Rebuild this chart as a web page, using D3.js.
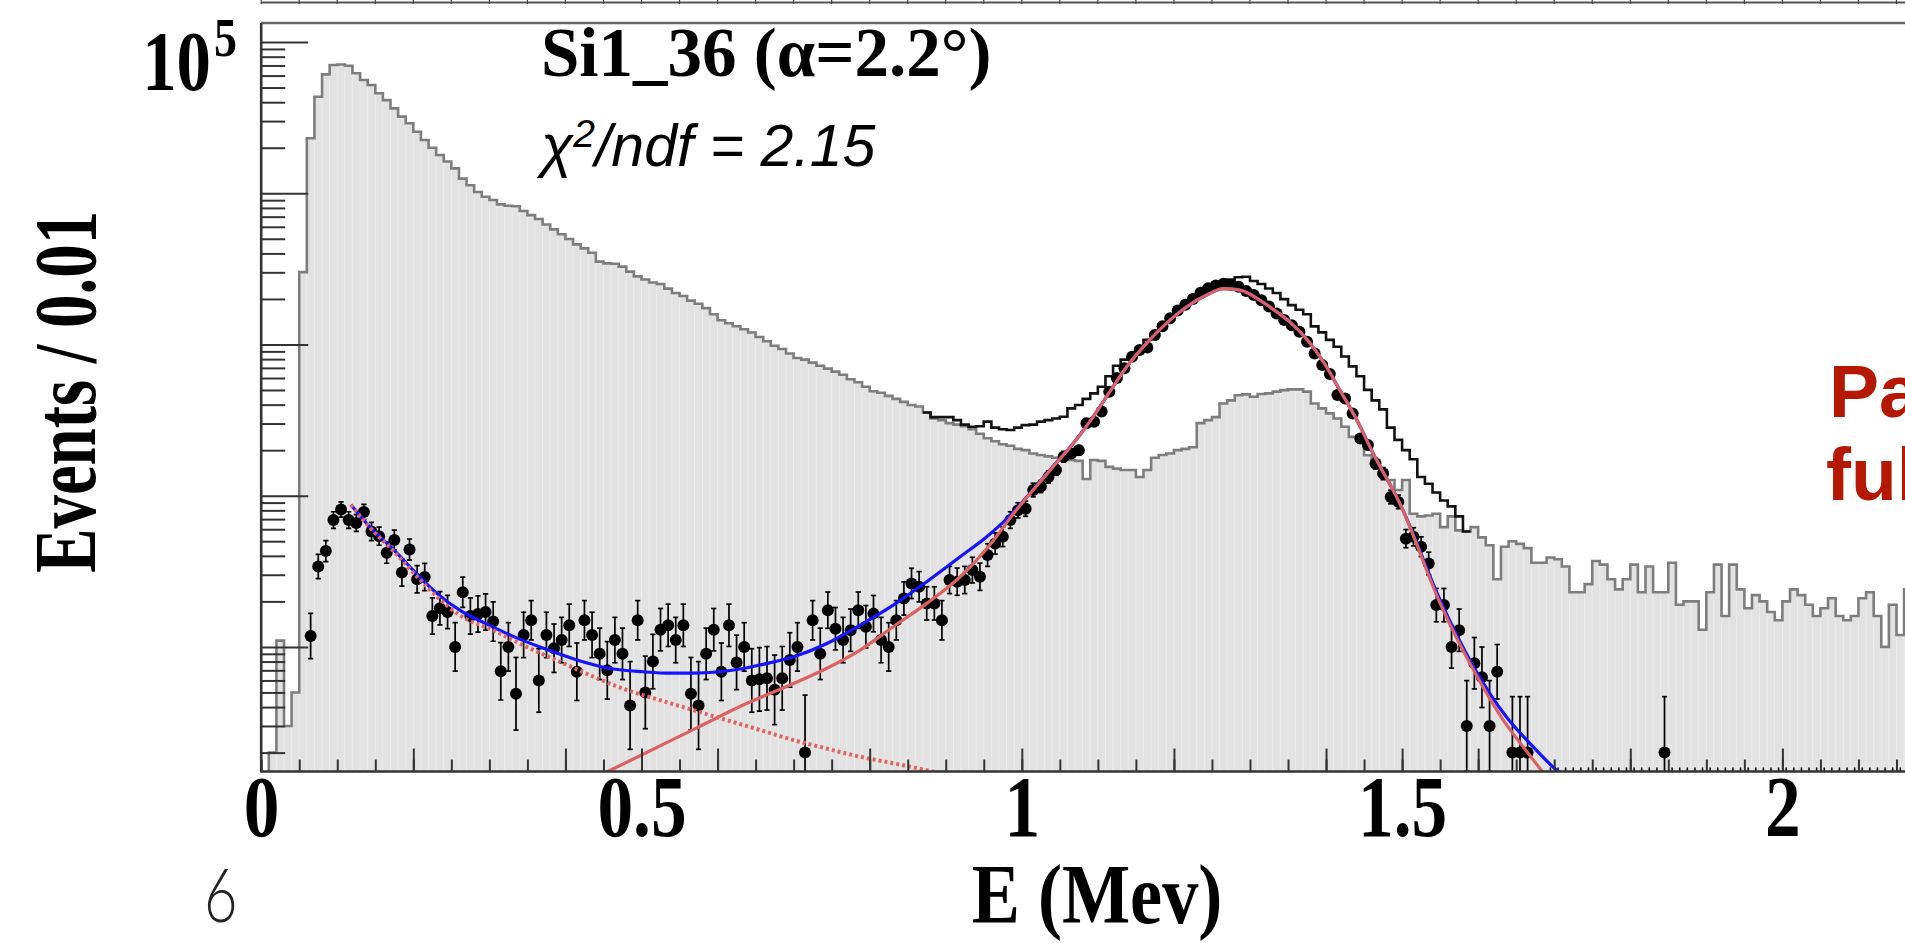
<!DOCTYPE html>
<html>
<head>
<meta charset="utf-8">
<script src="https://cdn.jsdelivr.net/npm/d3@7"></script>
<style>
  body { margin: 0; background: #fff; overflow: hidden; }
  svg { display: block; }
</style>
</head>
<body>
<div id="chart"></div>
<script>
// ---- data (bin width 0.01 MeV) ----
const binWidth = 0.01;

// grey filled histogram, bins starting at 0.00
const grayStart = 0.0;
const grayCounts = [
  0, 2, 11, 3, 5, 3010, 23100, 43500, 61100, 70500,
  71100, 69700, 62100, 56100, 52000, 45800, 41300, 36400, 32100, 29000,
  25500, 22500, 20000, 17900, 16200, 14600, 12500, 11300, 10200, 9490,
  9020, 8440, 8270, 8200, 7630, 7170, 6750, 6220, 5770, 5350,
  4980, 4590, 4320, 4040, 3530, 3440, 3420, 3270, 3030, 2820,
  2690, 2570, 2510, 2340, 2190, 2090, 1950, 1860, 1740, 1585,
  1445, 1380, 1320, 1260, 1200, 1120, 1050, 980, 933, 871,
  813, 794, 759, 724, 692, 661, 631, 589, 562, 525,
  490, 479, 457, 437, 417, 398, 389, 355, 324, 316,
  302, 295, 288, 275, 257, 240, 229, 219, 214, 204,
  200, 190, 186, 182, 178, 174, 172, 170, 129, 172,
  170, 155, 151, 148, 148, 133, 148, 178, 186, 190,
  200, 204, 209, 302, 316, 331, 407, 427, 462, 468,
  451, 470, 475, 488, 499, 505, 505, 488, 407, 378,
  350, 324, 286, 245, 233, 185, 172, 148, 127, 109,
  127, 76, 73, 74, 76, 62, 73, 59, 58, 62,
  53, 47, 28, 46, 50, 48, 45, 36, 36, 39,
  38, 34, 23, 23, 26, 37, 35, 28, 24, 28,
  35, 23, 34, 23, 23, 36, 19, 20, 20, 13,
  23, 35, 16, 35, 24, 18, 22, 20, 17, 15,
  20, 24, 22, 19, 16, 18, 21, 16, 15, 16,
  21, 23, 16, 10, 19, 12, 24
];

// black open histogram, bins starting at 0.87
const blackStart = 0.87;
const blackCounts = [
  355, 331, 331, 331, 316, 295, 286, 288, 309, 282,
  275, 272, 282, 293, 295, 309, 316, 324, 333, 378,
  398, 437, 475, 525, 617, 724, 794, 851, 955, 1072,
  1189, 1349, 1514, 1679, 1820, 1995, 2163, 2317, 2455, 2570,
  2692, 2786, 2805, 2630, 2512, 2344, 2188, 1995, 1820, 1698,
  1585, 1318, 1202, 1072, 966, 832, 716, 617, 501, 427,
  372, 282, 234, 200, 174, 133, 120, 105, 93, 85,
  73, 58
];

// data points, first bin starts at 0.06 (null = no marker, 0 = empty bin)
const pointStart = 0.06;
const pointCounts = [
  11.8, 34, 43, 69, 81, 69, 66, 78, 58, 54,
  42, 51, 31, 44, 28, 29, 16, 18, 17, 10,
  23, 16, 16.5, 17, 14.7, 6.9, 10, 4.9, 12, 15,
  6, 12, 9.8, 11.1, 13.9, 6.85, 15, 12, 9, 7,
  11.1, 9, 4.1, 15, 5, 8, 13, 13.9, 11.1, 13.9,
  4.9, 4.1, 9, 13, 6.85, 13.9, 7.9, 10, 6, 6.1,
  6.2, 5.2, 6.2, 8.2, 10, 2.0, 15, 9, 17.5, 13.2,
  11.1, 12.9, 17.5, 13.6, 16.6, 11.1, 10, 15, 20.9, 26.3,
  25, 19.4, 19.4, 15, 27.7, 27, 27.7, 32.2, 29.1, 40.5,
  48.3, 53.5, 69, 80, 82, 109, 115, 133, 148, 181,
  190, 200, 301, 308, 360, 487, 600, 695, 830, 918,
  956, 1153, 1320, 1490, 1680, 1830, 2000, 2200, 2350, 2450,
  2520, 2480, 2410, 2260, 2120, 1960, 1780, 1605, 1450, 1340,
  1214, 1042, 873, 731, 637, 463, 440, 350, 239, 216,
  163, 140, 98, 91, 52, 53.5, 46, 35.6, 18.9, 18.9,
  10, 12.9, 3.0, 7.8, 6.3, 3.0, 6.85, null, 2, 2,
  2, null, null, 0, 0, 0, 0, 0, 0, 0,
  0, 0, 0, 0, 0, 0, 0, 0, 2, 0,
  0, 0, 0, 0, 0, 0, 0, 0, 0, 0,
  0, 0, 0, 0, 0, 0, 0, 0, 0, 0,
  0, 0, 0, 0, 0, 0, 0, 0, 0, 0,
  0
];
// half length of each error bar, in decades
const pointErrLog = [
  0.15, 0.08, 0.07, 0.055, 0.05, 0.055, 0.055, 0.05, 0.06, 0.06,
  0.07, 0.065, 0.09, 0.07, 0.09, 0.09, 0.12, 0.11, 0.11, 0.16,
  0.10, 0.12, 0.12, 0.12, 0.13, 0.19, 0.16, 0.24, 0.15, 0.13,
  0.21, 0.15, 0.16, 0.15, 0.14, 0.19, 0.13, 0.15, 0.17, 0.19,
  0.15, 0.17, 0.29, 0.13, 0.24, 0.18, 0.14, 0.14, 0.15, 0.14,
  0.24, 0.29, 0.17, 0.14, 0.19, 0.14, 0.18, 0.16, 0.21, 0.21,
  0.21, 0.23, 0.21, 0.18, 0.16, 0.38, 0.13, 0.17, 0.12, 0.14,
  0.15, 0.14, 0.12, 0.14, 0.12, 0.15, 0.16, 0.13, 0.11, 0.10,
  0.10, 0.11, 0.11, 0.13, 0.09, 0.09, 0.09, 0.085, 0.09, 0.075,
  0.07, 0.065, 0.055, 0.05, 0.05, 0.045, 0.04, 0.04, 0.035, 0.035,
  0.03, 0.03, 0.025, 0.025, 0.025, 0.02, 0.02, 0.02, 0.015, 0.015,
  0.015, 0.015, 0.015, 0.01, 0.01, 0.01, 0.01, 0.01, 0.01, 0.01,
  0.01, 0.01, 0.01, 0.01, 0.01, 0.01, 0.01, 0.01, 0.01, 0.01,
  0.015, 0.015, 0.015, 0.02, 0.02, 0.02, 0.02, 0.025, 0.03, 0.03,
  0.035, 0.04, 0.045, 0.045, 0.06, 0.06, 0.065, 0.075, 0.11, 0.11,
  0.14, 0.14, 0.30, 0.17, 0.20, 0.30, 0.18, null, 0.37, 0.37,
  0.37, null, null, null, null, null, null, null, null, null,
  null, null, null, null, null, null, null, null, 0.37, null
];

// fitted curves, [E, events]
const fitTotal = [
  [0.118, 87], [0.143, 62], [0.174, 44], [0.204, 30.6], [0.231, 22.6], [0.261, 17.5],
  [0.296, 14.2], [0.332, 11.7], [0.371, 9.8], [0.415, 8.2], [0.459, 7.2], [0.502, 6.85],
  [0.538, 6.7], [0.568, 6.7], [0.603, 6.85], [0.634, 7.2], [0.656, 7.6], [0.700, 8.6],
  [0.743, 10.5], [0.787, 13.9], [0.831, 18.9], [0.875, 27], [0.919, 39.5], [0.954, 53.5],
  [0.989, 78], [1.015, 110], [1.041, 156], [1.068, 223], [1.094, 334], [1.120, 526],
  [1.138, 713], [1.164, 1018], [1.190, 1379], [1.217, 1778], [1.243, 2123], [1.265, 2340],
  [1.287, 2290], [1.313, 1967], [1.331, 1700], [1.353, 1400], [1.375, 1080], [1.397, 760],
  [1.418, 500], [1.440, 320], [1.462, 190], [1.497, 89], [1.550, 20.4], [1.594, 7.4],
  [1.637, 3.45], [1.668, 2.3], [1.703, 1.53], [1.72, 1.3]
];
const fitPeak = [
  [0.432, 1.31], [0.50, 1.93], [0.57, 2.87], [0.64, 4.27], [0.70, 5.73], [0.743, 7.2],
  [0.787, 9.5], [0.831, 13.6], [0.875, 19.4], [0.919, 29.1], [0.963, 50.8], [0.989, 76],
  [1.015, 109], [1.041, 155], [1.068, 222], [1.094, 333], [1.120, 525], [1.138, 712],
  [1.164, 1017], [1.190, 1378], [1.217, 1777], [1.243, 2122], [1.265, 2340], [1.287, 2290],
  [1.313, 1967], [1.331, 1700], [1.353, 1400], [1.375, 1080], [1.397, 760], [1.418, 500],
  [1.440, 320], [1.462, 190], [1.497, 89], [1.550, 19.4], [1.594, 7.0], [1.633, 3.28],
  [1.659, 2.19], [1.683, 1.53], [1.70, 1.2]
];
const fitExpo = [
  [0.118, 87], [0.143, 61.5], [0.174, 43], [0.204, 29.5], [0.231, 21.5], [0.261, 16.2],
  [0.305, 12.9], [0.349, 10.0], [0.393, 7.97], [0.437, 6.35], [0.481, 5.18], [0.524, 4.45],
  [0.568, 3.82], [0.612, 3.28], [0.656, 2.82], [0.700, 2.42], [0.743, 2.13], [0.787, 1.88],
  [0.831, 1.70], [0.875, 1.53], [0.905, 1.42]
];

const xLabels = [0, 0.5, 1, 1.5, 2];
const xMajorTicks = [0.2, 0.4, 0.5, 0.6, 0.8, 1.0, 1.2, 1.4, 1.5, 1.6, 1.8, 2.0];
const yMajorTicks = [10, 100, 1000, 10000, 100000];

// ---- layout ----
const W = 1905, H = 943;
const frame = { left: 261.2, top: 23, bottom: 771.5 };
const serif = "'Liberation Serif', 'Times New Roman', Times, serif";
const sans = "'Liberation Sans', Arial, Helvetica, sans-serif";

const x = d3.scaleLinear().domain([0, 2.2]).range([frame.left, frame.left + 2.2 * 760.6]);
const y = d3.scaleLog().domain([1.5, 1.336e5]).range([frame.bottom, frame.top]);
const yv = v => y(Math.max(v, 0.3));

const svg = d3.select('#chart').append('svg')
  .attr('width', W).attr('height', H);
svg.append('rect').attr('width', W).attr('height', H).attr('fill', '#fff');

svg.append('clipPath').attr('id', 'plot-clip')
  .append('rect')
  .attr('x', frame.left).attr('y', frame.top)
  .attr('width', W - frame.left).attr('height', frame.bottom - frame.top);

// remains of the pad above (its bottom axis)
const above = svg.append('g');
above.append('line')
  .attr('x1', frame.left).attr('x2', W).attr('y1', 2.5).attr('y2', 2.5)
  .attr('stroke', '#555').attr('stroke-width', 2);
above.selectAll('.t').data(x.ticks(44)).join('line')
  .attr('x1', d => x(d)).attr('x2', d => x(d)).attr('y1', 0).attr('y2', 4)
  .attr('stroke', '#444').attr('stroke-width', 1.2);

const plot = svg.append('g').attr('clip-path', 'url(#plot-clip)');

// grey histogram: fill columns then outline
const grayBins = grayCounts.map((v, i) => ({ e: grayStart + i * binWidth, v }));
plot.append('g').selectAll('rect').data(grayBins.filter(d => d.v > 0)).join('rect')
  .attr('x', d => x(d.e))
  .attr('width', d => x(d.e + binWidth) - x(d.e))
  .attr('y', d => yv(d.v))
  .attr('height', d => frame.bottom - yv(d.v))
  .attr('fill', '#e2e2e2')
  .attr('stroke', '#ebebeb')
  .attr('stroke-width', 0.8);

const step = d3.line().curve(d3.curveStepAfter).x(d => x(d.e)).y(d => yv(d.v));
const withEnd = bins => bins.concat([{ e: bins[bins.length - 1].e + binWidth, v: bins[bins.length - 1].v }]);

plot.append('path')
  .attr('d', step(withEnd(grayBins)))
  .attr('fill', 'none').attr('stroke', '#7d7d7d').attr('stroke-width', 2.6);

// black histogram
const blackBins = blackCounts.map((v, i) => ({ e: blackStart + i * binWidth, v }));
plot.append('path')
  .attr('d', step(withEnd(blackBins)))
  .attr('fill', 'none').attr('stroke', '#111').attr('stroke-width', 2.6);

// data points
const points = pointCounts.map((v, i) => ({
  e: pointStart + (i + 0.5) * binWidth, v, err: pointErrLog[i]
}));
const shown = points.filter(d => d.v != null && d.v > 0);
const empty = points.filter(d => d.v === 0);

const bars = plot.append('g').attr('stroke', '#000').attr('stroke-width', 1.7);
shown.filter(d => d.err != null).forEach(d => {
  const f = Math.pow(10, d.err);
  const yTop = y(d.v * f), yBot = y(d.v / f), cx = x(d.e);
  bars.append('line').attr('x1', cx).attr('x2', cx).attr('y1', yTop).attr('y2', yBot);
  bars.append('line').attr('x1', cx - 2.6).attr('x2', cx + 2.6).attr('y1', yTop).attr('y2', yTop);
  bars.append('line').attr('x1', cx - 2.6).attr('x2', cx + 2.6).attr('y1', yBot).attr('y2', yBot);
});
plot.append('g').selectAll('line').data(empty).join('line')
  .attr('x1', d => x(d.e)).attr('x2', d => x(d.e))
  .attr('y1', frame.bottom).attr('y2', frame.bottom - 4)
  .attr('stroke', '#000').attr('stroke-width', 1.5);
plot.append('g').selectAll('circle').data(shown).join('circle')
  .attr('cx', d => x(d.e)).attr('cy', d => y(d.v)).attr('r', 6)
  .attr('fill', '#000');

// fit curves
const curve = d3.line().curve(d3.curveMonotoneX).x(d => x(d[0])).y(d => y(d[1]));
plot.append('path').attr('d', curve(fitTotal))
  .attr('fill', 'none').attr('stroke', '#1414ff').attr('stroke-width', 3.2);
plot.append('path').attr('d', curve(fitPeak))
  .attr('fill', 'none').attr('stroke', '#dc6262').attr('stroke-width', 3.2);
plot.append('path').attr('d', curve(fitExpo))
  .attr('fill', 'none').attr('stroke', '#e06464').attr('stroke-width', 4)
  .attr('stroke-dasharray', '3,3');

// ---- frame and axes ----
svg.append('line')
  .attr('x1', frame.left).attr('x2', W).attr('y1', frame.top).attr('y2', frame.top)
  .attr('stroke', '#666').attr('stroke-width', 2.6);

const yMinor = y.ticks().filter(t => !yMajorTicks.includes(t));
svg.append('g').attr('transform', `translate(${frame.left},0)`)
  .call(d3.axisRight(y).tickValues(yMinor).tickSize(24).tickSizeOuter(0).tickFormat(''))
  .call(g => g.select('.domain').remove())
  .selectAll('line').attr('stroke', '#333').attr('stroke-width', 2);
svg.append('g').attr('transform', `translate(${frame.left},0)`)
  .call(d3.axisRight(y).tickValues(yMajorTicks).tickSize(47).tickSizeOuter(0).tickFormat(''))
  .call(g => g.select('.domain').remove())
  .selectAll('line').attr('stroke', '#333').attr('stroke-width', 2);

svg.append('g').attr('transform', `translate(0,${frame.bottom})`)
  .call(d3.axisTop(x).ticks(44).tickSize(12).tickSizeOuter(0).tickFormat(''))
  .call(g => g.select('.domain').remove())
  .selectAll('line').attr('stroke', '#333').attr('stroke-width', 2);
svg.append('g').attr('transform', `translate(0,${frame.bottom})`)
  .call(d3.axisTop(x).tickValues(xMajorTicks).tickSize(23).tickSizeOuter(0).tickFormat(''))
  .call(g => g.select('.domain').remove())
  .selectAll('line').attr('stroke', '#333').attr('stroke-width', 2);

svg.append('line')
  .attr('x1', frame.left).attr('x2', frame.left).attr('y1', frame.top).attr('y2', frame.bottom + 1)
  .attr('stroke', '#333').attr('stroke-width', 2.6);
svg.append('line')
  .attr('x1', frame.left).attr('x2', W).attr('y1', frame.bottom).attr('y2', frame.bottom)
  .attr('stroke', '#333').attr('stroke-width', 2.6);

// x tick labels
svg.append('g').attr('transform', `translate(0,${frame.bottom})`)
  .call(d3.axisBottom(x).tickValues(xLabels).tickSize(0).tickFormat(d3.format('~g')))
  .call(g => g.select('.domain').remove())
  .selectAll('text')
  .attr('y', 64).attr('dy', null)
  .attr('transform', 'scale(0.83,1)')
  .style('font-family', serif).style('font-weight', 'bold').style('font-size', '86px')
  .style('fill', '#000');

// y label at 10^5
svg.append('text')
  .attr('transform', `translate(211,${y(1e5) + 48}) scale(0.82,1)`)
  .attr('text-anchor', 'end')
  .style('font-family', serif).style('font-weight', 'bold').style('font-size', '84px')
  .text('10');
svg.append('text')
  .attr('transform', `translate(214,${y(1e5) + 14}) scale(0.85,1)`)
  .style('font-family', serif).style('font-weight', 'bold').style('font-size', '54px')
  .text('5');

// axis titles
svg.append('text')
  .attr('transform', 'translate(1097,923) scale(0.86,1)')
  .attr('text-anchor', 'middle')
  .style('font-family', serif).style('font-weight', 'bold').style('font-size', '84px')
  .text('E (Mev)');
svg.append('text')
  .attr('transform', 'translate(95,392) rotate(-90) scale(0.76,1)')
  .attr('text-anchor', 'middle')
  .style('font-family', serif).style('font-weight', 'bold').style('font-size', '88px')
  .text('Events / 0.01');

// pad labels
svg.append('text')
  .attr('x', 541).attr('y', 76)
  .style('font-family', serif).style('font-weight', 'bold').style('font-size', '69px')
  .text('Si1_36 (α=2.2°)');
const chi = svg.append('text')
  .attr('x', 541).attr('y', 166)
  .style('font-family', sans).style('font-style', 'italic').style('font-size', '59px');
chi.append('tspan').text('χ');
chi.append('tspan').attr('dy', -19).style('font-size', '39px').text('2');
chi.append('tspan').attr('dy', 19).text('/ndf = 2.15');

// slide annotations
svg.append('text')
  .attr('x', 1829).attr('y', 417)
  .style('font-family', sans).style('font-weight', 'bold').style('font-size', '75px')
  .style('fill', '#b51800')
  .text('Pa');
svg.append('text')
  .attr('x', 1826).attr('y', 500)
  .style('font-family', sans).style('font-weight', 'bold').style('font-size', '75px')
  .style('fill', '#b51800')
  .text('ful');
svg.append('text')
  .attr('transform', 'translate(204,922) scale(0.78,1)')
  .style('font-family', "Lato, 'Open Sans', Roboto, sans-serif").style('font-weight', 300)
  .style('font-size', '74px').style('fill', '#222')
  .text('6');
</script>
</body>
</html>
